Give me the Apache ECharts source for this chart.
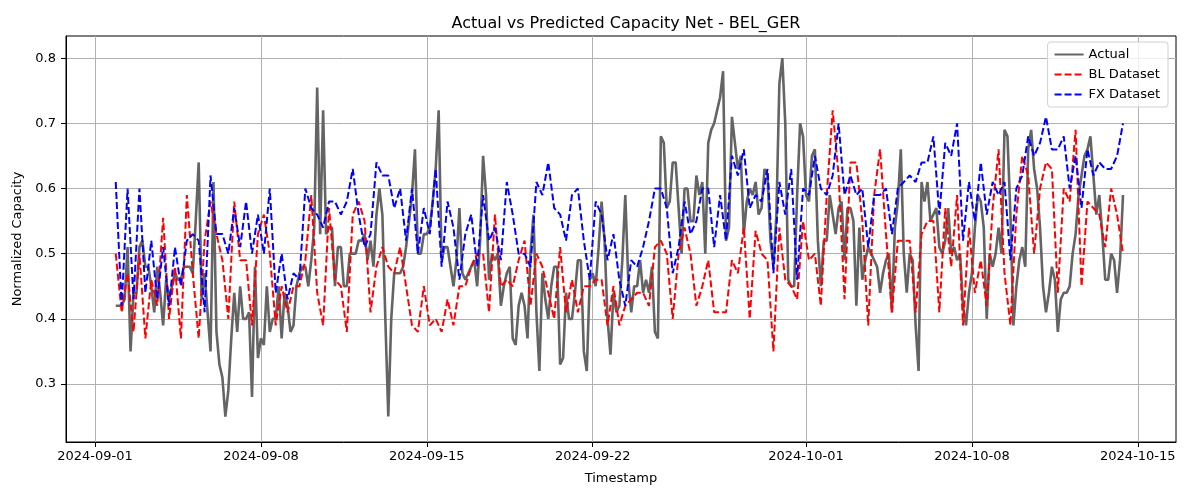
<!DOCTYPE html>
<html>
<head>
<meta charset="UTF-8">
<script src="https://cdn.jsdelivr.net/npm/echarts@6/dist/echarts.min.js"></script>
<style>
html, body { margin: 0; padding: 0; background: #fff; }
#chart { width: 1200px; height: 500px; }
</style>
</head>
<body>
<div id="chart"></div>
<script>
// first reading and spacing of the readings (hours)
var startTime = '2024-09-01T21:00:00';
var actualStepHours = 3;
var predStepHours = 6;

var actual = [
  0.42,0.42,0.42,0.43,0.51,0.35,0.44,0.44,0.51,0.52,
  0.48,0.48,0.45,0.41,0.48,0.44,0.39,0.46,0.43,0.45,
  0.47,0.46,0.46,0.48,0.48,0.48,0.47,0.55,0.64,0.43,
  0.47,0.41,0.35,0.61,0.38,0.33,0.31,0.25,0.29,0.37,
  0.44,0.38,0.45,0.40,0.40,0.41,0.28,0.48,0.34,0.37,
  0.36,0.45,0.38,0.40,0.40,0.45,0.37,0.44,0.42,0.38,
  0.39,0.45,0.47,0.48,0.48,0.45,0.49,0.54,0.755,0.53,
  0.72,0.53,0.54,0.54,0.45,0.51,0.51,0.45,0.45,0.50,
  0.50,0.50,0.52,0.52,0.53,0.49,0.52,0.48,0.56,0.60,
  0.56,0.40,0.25,0.40,0.47,0.47,0.47,0.48,0.51,0.55,
  0.59,0.66,0.50,0.50,0.53,0.53,0.54,0.58,0.63,0.72,
  0.49,0.51,0.51,0.48,0.45,0.49,0.57,0.47,0.46,0.47,
  0.48,0.49,0.45,0.52,0.65,0.59,0.46,0.50,0.49,0.50,
  0.42,0.45,0.47,0.48,0.37,0.36,0.42,0.44,0.42,0.37,
  0.50,0.56,0.41,0.32,0.47,0.43,0.40,0.45,0.48,0.48,
  0.33,0.34,0.44,0.40,0.40,0.44,0.49,0.49,0.35,0.32,
  0.46,0.47,0.45,0.51,0.58,0.52,0.40,0.345,0.44,0.41,
  0.42,0.49,0.59,0.46,0.41,0.45,0.45,0.49,0.44,0.46,
  0.44,0.48,0.38,0.37,0.68,0.67,0.57,0.58,0.64,0.64,
  0.57,0.50,0.60,0.60,0.55,0.55,0.62,0.59,0.61,0.50,
  0.67,0.69,0.70,0.72,0.74,0.78,0.52,0.54,0.71,0.67,
  0.63,0.65,0.53,0.58,0.60,0.59,0.61,0.56,0.57,0.63,
  0.62,0.52,0.48,0.56,0.76,0.80,0.70,0.46,0.45,0.45,
  0.59,0.70,0.68,0.59,0.58,0.65,0.66,0.52,0.45,0.52,
  0.52,0.59,0.56,0.53,0.57,0.58,0.49,0.57,0.57,0.55,
  0.42,0.54,0.46,0.49,0.51,0.50,0.49,0.48,0.44,0.47,
  0.49,0.50,0.41,0.54,0.58,0.66,0.50,0.44,0.50,0.49,
  0.39,0.32,0.61,0.58,0.61,0.55,0.56,0.57,0.51,0.50,
  0.52,0.57,0.50,0.51,0.49,0.50,0.42,0.39,0.44,0.47,
  0.54,0.59,0.58,0.54,0.40,0.50,0.48,0.50,0.54,0.50,
  0.69,0.68,0.56,0.39,0.45,0.49,0.51,0.48,0.66,0.69,
  0.63,0.60,0.54,0.45,0.41,0.44,0.48,0.46,0.38,0.43,
  0.44,0.44,0.45,0.50,0.53,0.59,0.62,0.65,0.66,0.68,
  0.62,0.56,0.59,0.53,0.46,0.46,0.50,0.49,0.44,0.49,
  0.59
];

var blDataset = [
  0.50,0.41,0.47,0.38,0.50,0.37,0.46,0.42,0.555,0.40,
  0.48,0.37,0.59,0.47,0.37,0.52,0.58,0.53,0.49,0.40,
  0.58,0.49,0.49,0.39,0.53,0.56,0.50,0.39,0.45,0.41,
  0.45,0.45,0.49,0.59,0.44,0.39,0.57,0.46,0.45,0.38,
  0.56,0.58,0.55,0.41,0.48,0.51,0.48,0.47,0.51,0.45,
  0.39,0.38,0.45,0.39,0.40,0.38,0.43,0.39,0.45,0.45,
  0.48,0.50,0.50,0.41,0.56,0.45,0.46,0.45,0.49,0.52,
  0.42,0.50,0.48,0.44,0.40,0.51,0.41,0.46,0.41,0.45,
  0.45,0.46,0.46,0.39,0.45,0.39,0.42,0.43,0.44,0.44,
  0.42,0.51,0.52,0.50,0.40,0.50,0.54,0.50,0.42,0.45,
  0.49,0.41,0.41,0.41,0.49,0.47,0.54,0.40,0.535,0.50,
  0.49,0.35,0.54,0.46,0.45,0.43,0.55,0.49,0.50,0.42,
  0.59,0.72,0.62,0.43,0.64,0.64,0.55,0.39,0.59,0.66,
  0.53,0.41,0.52,0.52,0.52,0.41,0.53,0.55,0.55,0.41,
  0.57,0.48,0.59,0.39,0.54,0.44,0.49,0.42,0.57,0.66,
  0.47,0.39,0.56,0.65,0.62,0.50,0.60,0.64,0.63,0.44,
  0.60,0.58,0.69,0.45,0.58,0.57,0.56,0.51,0.60,0.56,
  0.50
];

var fxDataset = [
  0.61,0.42,0.60,0.43,0.60,0.44,0.52,0.43,0.51,0.42,
  0.51,0.45,0.52,0.53,0.52,0.41,0.62,0.53,0.53,0.50,
  0.57,0.51,0.58,0.50,0.56,0.50,0.60,0.44,0.50,0.43,
  0.47,0.46,0.60,0.57,0.56,0.54,0.58,0.58,0.56,0.58,
  0.63,0.56,0.51,0.53,0.64,0.62,0.62,0.57,0.60,0.52,
  0.60,0.50,0.57,0.53,0.63,0.48,0.58,0.54,0.46,0.53,
  0.56,0.48,0.59,0.52,0.54,0.49,0.61,0.56,0.50,0.50,
  0.48,0.61,0.59,0.64,0.57,0.56,0.52,0.59,0.60,0.52,
  0.46,0.58,0.56,0.49,0.53,0.46,0.42,0.49,0.48,0.51,
  0.55,0.60,0.60,0.57,0.47,0.51,0.58,0.53,0.55,0.60,
  0.60,0.51,0.59,0.52,0.65,0.62,0.66,0.57,0.59,0.58,
  0.63,0.47,0.61,0.56,0.63,0.46,0.60,0.59,0.65,0.60,
  0.59,0.62,0.70,0.59,0.62,0.59,0.60,0.51,0.59,0.59,
  0.60,0.53,0.60,0.61,0.62,0.61,0.64,0.64,0.68,0.56,
  0.67,0.65,0.70,0.52,0.61,0.55,0.64,0.56,0.61,0.59,
  0.61,0.49,0.60,0.62,0.68,0.65,0.67,0.71,0.66,0.66,
  0.68,0.60,0.65,0.57,0.66,0.62,0.64,0.63,0.63,0.65,
  0.70
];

var xTickDates = ['2024-09-01', '2024-09-08', '2024-09-15', '2024-09-22', '2024-10-01', '2024-10-08', '2024-10-15'];
var yTicks = [0.3, 0.4, 0.5, 0.6, 0.7, 0.8];

var t0 = new Date(startTime).getTime();
function pairs(vals, stepHours) {
  var out = [];
  for (var i = 0; i < vals.length; i++) {
    out.push([t0 + i * stepHours * 3600 * 1000, vals[i]]);
  }
  return out;
}
var xTicks = xTickDates.map(function (d) { return new Date(d + 'T00:00:00').getTime(); });

var font = 'DejaVu Sans';
var chart = echarts.init(document.getElementById('chart'));
chart.setOption({
  animation: false,
  backgroundColor: '#fff',
  title: {
    text: 'Actual vs Predicted Capacity Net - BEL_GER',
    left: 621, top: 11, textAlign: 'center',
    textStyle: { fontFamily: font, fontSize: 16, fontWeight: 'normal', color: '#000' }
  },
  legend: {
    orient: 'vertical', right: 32, top: 42, align: 'left',
    itemWidth: 29, itemHeight: 14, itemGap: 7,
    padding: [6, 8, 6, 6],
    borderColor: '#d0d0d0', borderWidth: 1, borderRadius: 3,
    backgroundColor: 'rgba(255,255,255,0.8)',
    itemStyle: { opacity: 0 },
    textStyle: { fontFamily: font, fontSize: 13, color: '#000' },
    data: ['Actual', 'BL Dataset', 'FX Dataset']
  },
  grid: { left: 66, right: 24, top: 36, bottom: 58, show: true, borderColor: '#000', borderWidth: 1 },
  xAxis: {
    type: 'value',
    min: new Date('2024-08-30T18:38:00').getTime(),
    max: new Date('2024-10-16T14:40:00').getTime(),
    name: 'Timestamp', nameLocation: 'middle', nameGap: 30,
    nameTextStyle: { fontFamily: font, fontSize: 13, color: '#000' },
    axisLine: { lineStyle: { color: '#000' } },
    axisTick: { show: true, length: 5, lineStyle: { color: '#000' }, customValues: xTicks },
    axisLabel: {
      fontFamily: font, fontSize: 13, color: '#000', margin: 8,
      customValues: xTicks,
      formatter: function (v) { return echarts.time.format(v, '{yyyy}-{MM}-{dd}', false); }
    },
    splitLine: { show: true, lineStyle: { color: '#b0b0b0', width: 1 } }
  },
  yAxis: {
    type: 'value', min: 0.211, max: 0.834,
    name: 'Normalized Capacity', nameLocation: 'middle', nameGap: 38,
    nameTextStyle: { fontFamily: font, fontSize: 13, color: '#000' },
    axisLine: { show: true, lineStyle: { color: '#000' } },
    axisTick: { show: true, length: 5, lineStyle: { color: '#000' }, customValues: yTicks },
    axisLabel: {
      fontFamily: font, fontSize: 13, color: '#000', margin: 10,
      customValues: yTicks,
      formatter: function (v) { return v.toFixed(1); }
    },
    splitLine: { show: true, lineStyle: { color: '#b0b0b0', width: 1 } }
  },
  series: [
    {
      name: 'Actual', type: 'line', data: pairs(actual, actualStepHours),
      showSymbol: false, symbol: 'none',
      lineStyle: { color: '#646464', width: 2.6 },
      itemStyle: { color: '#646464' }
    },
    {
      name: 'BL Dataset', type: 'line', data: pairs(blDataset, predStepHours),
      showSymbol: false, symbol: 'none',
      lineStyle: { color: '#ff0000', width: 2, type: [7, 3] },
      itemStyle: { color: '#ff0000' }
    },
    {
      name: 'FX Dataset', type: 'line', data: pairs(fxDataset, predStepHours),
      showSymbol: false, symbol: 'none',
      lineStyle: { color: '#0000ff', width: 2, type: [7, 3] },
      itemStyle: { color: '#0000ff' }
    }
  ]
});
</script>
</body>
</html>
